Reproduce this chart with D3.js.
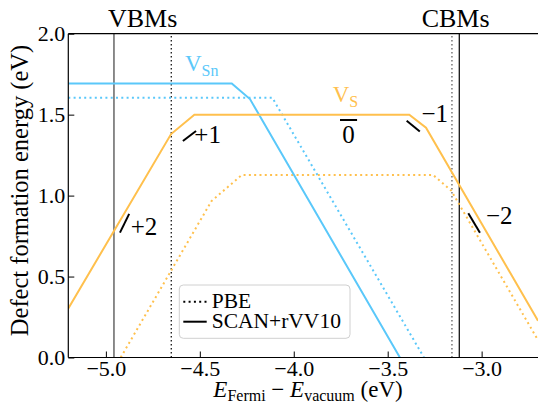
<!DOCTYPE html>
<html>
<head>
<meta charset="utf-8">
<script src="https://cdn.jsdelivr.net/npm/d3@7"></script>
<style>
  html, body { margin: 0; padding: 0; background: #fff; }
  svg { display: block; font-family: "Liberation Serif", "Times New Roman", serif; }
</style>
</head>
<body>
<div class="chart"></div>
<script>
// ---- data (Fermi level in eV, formation energy in eV) ----
var vsnScanX = [-5.2, -4.330, -4.233, -3.435];
var vsnScanY = [1.693, 1.693, 1.596, 0.0];
var vsnPbeX  = [-5.2, -4.114, -3.307];
var vsnPbeY  = [1.604, 1.604, 0.0];
var vsScanX  = [-5.2, -4.653, -4.529, -3.385, -3.296, -2.7];
var vsScanY  = [0.303, 1.380, 1.500, 1.500, 1.419, 0.227];
var vsPbeX   = [-4.921, -4.438, -4.277, -3.258, -3.162, -2.7];
var vsPbeY   = [0.0, 0.966, 1.127, 1.127, 1.031, 0.107];

var vbmScan = -4.957, vbmPbe = -4.652;
var cbmPbe = -3.158, cbmScan = -3.119;

var xTicks = [-5.0, -4.5, -4.0, -3.5, -3.0];
var yTicks = [0.0, 0.5, 1.0, 1.5, 2.0];

var chargeLabels = ['+2', '+1', '0', '\u22121', '\u22122'];

/* ======== layout ============= */
var width = 538, height = 406;
var mLeft = 68.3, mTop = 33.7, mBottom = 357.5, mRight = 538;
var blue = '#5ac8fa', orange = '#ffc04d';
var serif = '"Liberation Serif", "Times New Roman", serif';
var lw = 2;

var svg = d3.select('.chart').append('svg')
  .attr('width', width).attr('height', height);

var x = d3.scaleLinear().domain([-5.2, -2.7]).range([mLeft, mRight]);
var y = d3.scaleLinear().domain([0, 2]).range([mBottom, mTop]);

svg.append('defs').append('clipPath').attr('id', 'plotclip')
  .append('rect').attr('x', mLeft).attr('y', mTop)
  .attr('width', mRight - mLeft).attr('height', mBottom - mTop);

var plot = svg.append('g').attr('clip-path', 'url(#plotclip)');

// band edges
function vline(v, color, dash, w){
  plot.append('line')
    .attr('x1', x(v)).attr('x2', x(v))
    .attr('y1', y(0)).attr('y2', y(2))
    .attr('stroke', color).attr('stroke-width', w)
    .attr('stroke-dasharray', dash);
}
vline(vbmScan, '#666', null, 1.5);
vline(vbmPbe, '#000', '1.5,2.5', 1.2);
vline(cbmPbe, '#555', '1.5,2.5', 1.2);
vline(cbmScan, '#000', null, 1.2);

var line = d3.line().x(function(d){ return x(d[0]); }).y(function(d){ return y(d[1]); });
function curve(xs, ys, color, dash){
  plot.append('path')
    .datum(d3.zip(xs, ys))
    .attr('d', line)
    .attr('fill', 'none')
    .attr('stroke', color)
    .attr('stroke-width', lw)
    .attr('stroke-dasharray', dash);
}
curve(vsnPbeX, vsnPbeY, blue, '2,3.3');
curve(vsPbeX, vsPbeY, orange, '2,3.3');
curve(vsnScanX, vsnScanY, blue, null);
curve(vsScanX, vsScanY, orange, null);

// charge-state marks: [x1,y1,x2,y2] in data units, then label anchor
var marks = [
  [-4.925, 0.771, -4.876, 0.887, -4.868, 0.757, 'start'],
  [-4.590, 1.337, -4.520, 1.399, -4.529, 1.324, 'start'],
  [-3.754, 1.467, -3.663, 1.467, -3.709, 1.326, 'middle'],
  [-3.399, 1.462, -3.329, 1.396, -3.320, 1.457, 'start'],
  [-3.071, 0.891, -3.009, 0.771, -2.977, 0.825, 'start']
];
marks.forEach(function(m, i){
  svg.append('line')
    .attr('x1', x(m[0])).attr('y1', y(m[1]))
    .attr('x2', x(m[2])).attr('y2', y(m[3]))
    .attr('stroke', '#000').attr('stroke-width', 2);
  svg.append('text')
    .attr('x', x(m[4])).attr('y', y(m[5]))
    .attr('text-anchor', m[6])
    .attr('font-size', 25)
    .text(chargeLabels[i]);
});

// defect names
function defectName(xv, yv, sub, color){
  var t = svg.append('text')
    .attr('x', x(xv)).attr('y', y(yv))
    .attr('font-size', 23).attr('fill', color);
  t.append('tspan').text('V');
  t.append('tspan').attr('font-size', 16).attr('dy', 5).text(sub);
}
defectName(-4.579, 1.77, 'Sn', blue);
defectName(-3.793, 1.581, 'S', orange);

// spines
svg.append('line').attr('x1', mLeft).attr('x2', mLeft).attr('y1', mTop).attr('y2', mBottom)
  .attr('stroke', '#000').attr('stroke-width', 1.2);
svg.append('line').attr('x1', mLeft).attr('x2', mRight).attr('y1', mBottom).attr('y2', mBottom)
  .attr('stroke', '#000').attr('stroke-width', 1.2);
svg.append('line').attr('x1', mLeft).attr('x2', mRight).attr('y1', mTop).attr('y2', mTop)
  .attr('stroke', '#000').attr('stroke-width', 1.2);

// axes (inward ticks)
var xAxis = d3.axisBottom(x).tickValues(xTicks).tickSizeInner(-6).tickSizeOuter(0)
  .tickPadding(3).tickFormat(function(d){ return d3.format('.1f')(d).replace('-', '\u2212'); });
var gx = svg.append('g').attr('transform', 'translate(0,' + mBottom + ')').call(xAxis);
gx.attr('font-family', serif).attr('font-size', 22);
gx.select('.domain').remove();
gx.selectAll('text').attr('fill', '#000');
gx.selectAll('line').attr('stroke', '#000');

var yAxis = d3.axisLeft(y).tickValues(yTicks).tickSizeInner(-6).tickSizeOuter(0)
  .tickPadding(3).tickFormat(d3.format('.1f'));
var gy = svg.append('g').attr('transform', 'translate(' + mLeft + ',0)').call(yAxis);
gy.attr('font-family', serif).attr('font-size', 22);
gy.select('.domain').remove();
gy.selectAll('text').attr('fill', '#000');
gy.selectAll('line').attr('stroke', '#000');

// VBMs / CBMs headers
svg.append('text').attr('x', (x(vbmScan) + x(vbmPbe)) / 2).attr('y', 27)
  .attr('text-anchor', 'middle').attr('font-size', 26).text('VBMs');
svg.append('text').attr('x', (x(cbmScan) + x(cbmPbe)) / 2).attr('y', 27)
  .attr('text-anchor', 'middle').attr('font-size', 26).text('CBMs');

// axis labels
svg.append('text')
  .attr('transform', 'translate(28,' + 190.5 + ') rotate(-90)')
  .attr('text-anchor', 'middle').attr('font-size', 24.5)
  .text('Defect formation energy (eV)');

var xl = svg.append('text').attr('x', 308).attr('y', 397)
  .attr('text-anchor', 'middle').attr('font-size', 23);
xl.append('tspan').attr('font-style', 'italic').text('E');
xl.append('tspan').attr('font-size', 16).attr('dy', 4).text('Fermi');
xl.append('tspan').attr('dy', -4).text(' \u2212 ');
xl.append('tspan').attr('font-style', 'italic').text('E');
xl.append('tspan').attr('font-size', 16).attr('dy', 4).text('vacuum');
xl.append('tspan').attr('dy', -4).text(' (eV)');

// legend
var lg = svg.append('g').attr('transform', 'translate(179.3,285)');
lg.append('rect').attr('width', 170.7).attr('height', 53.3).attr('rx', 4)
  .attr('fill', '#fff').attr('fill-opacity', 0.8)
  .attr('stroke', '#d0d0d0').attr('stroke-width', 1);
var legendItems = [['PBE', '2,3.3'], ['SCAN+rVV10', null]];
legendItems.forEach(function(it, i){
  var yy = 16.7 + i * 20;
  lg.append('line').attr('x1', 4).attr('x2', 27.4).attr('y1', yy).attr('y2', yy)
    .attr('stroke', '#000').attr('stroke-width', lw).attr('stroke-dasharray', it[1]);
  lg.append('text').attr('x', 32.4).attr('y', yy + 6.6).attr('font-size', 21.5).text(it[0]);
});
</script>
</body>
</html>
